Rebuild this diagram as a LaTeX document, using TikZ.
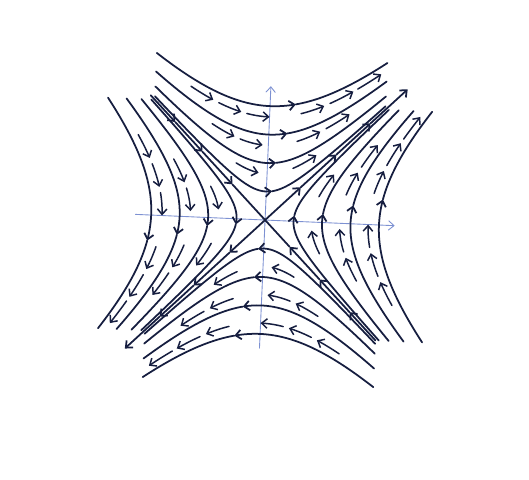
\documentclass[tikz,border=0pt]{standalone}
\usetikzlibrary{arrows.meta}
\definecolor{ink}{RGB}{22,30,64}
\definecolor{axisblue}{RGB}{125,145,210}
\tikzset{
  orbit/.style={ink,line width=1pt},
  flow/.style={ink,line width=0.85pt,->},
  axisline/.style={axisblue,line width=0.5pt,->}
}
\begin{document}
\begin{tikzpicture}[x=0.57cm,y=0.57cm,line cap=round,>={Straight Barb[length=1.1mm,width=1.9mm]}]
\useasboundingbox (-9.30,-9.09) rectangle (9.26,7.72);
\begin{scope}[rotate=-2.5]
% axes
\draw[axisline] (-4.55,0) -- (4.55,0);
\draw[axisline] (0,-4.5) -- (0,4.7);
% the four families, each drawn in the frame of the upper one
\foreach \ca/\cb/\cc/\cd in {1/0/0/1,0/1/1/0,0/-1/-1/0,-1/0/0/-1}{
  \begin{scope}[cm={\ca,\cb,\cc,\cd,(0,0)}]
  \foreach \k/\h in {1/0.2,2/0.3,3/0.65,4/0.9}{
    \draw[orbit,->] plot[domain=-4.05:\h,samples=40,smooth] (\x,{sqrt(\x*\x+\k*\k)});
    \draw[orbit] plot[domain=\h:4.05,samples=40,smooth] (\x,{sqrt(\x*\x+\k*\k)});
  }
  % short arrows just inside each orbit
  \foreach \b/\s in {3.62/-2.4,3.62/-1.4,3.62/-0.4,3.62/1.5,3.62/2.5,3.62/3.45,
                     2.62/-1.6,2.62/-0.6,2.62/1.4,2.62/2.4,
                     1.62/-0.7,1.62/1.3}
    \draw[flow] plot[domain=\s-0.4:\s+0.4,samples=6,smooth] (\x,{sqrt(\x*\x+\b*\b)});
  \end{scope}
}
% stable line, heads pointing in
\foreach \u/\v in {4.2/3.3,3.3/2.3,2.3/1.2}
  \draw[orbit,->] (-\u,\u) -- (-\v,\v);
\foreach \u/\v in {4.05/3.1,3.1/2.0,2.0/0.9}
  \draw[orbit,->] (\u,-\u) -- (\v,-\v);
\draw[orbit] (-1.2,1.2) -- (0.9,-0.9);
% unstable line, heads pointing out
\foreach \u/\v in {0/1.2,1.2/2.4,2.4/3.55,3.55/4.8}
  \draw[orbit,->] (\u,\u) -- (\v,\v);
\foreach \u/\v in {0/1.2,1.2/2.4,2.4/3.55,3.55/4.72}
  \draw[orbit,->] (-\u,-\u) -- (-\v,-\v);
\end{scope}
\end{tikzpicture}
\end{document}
